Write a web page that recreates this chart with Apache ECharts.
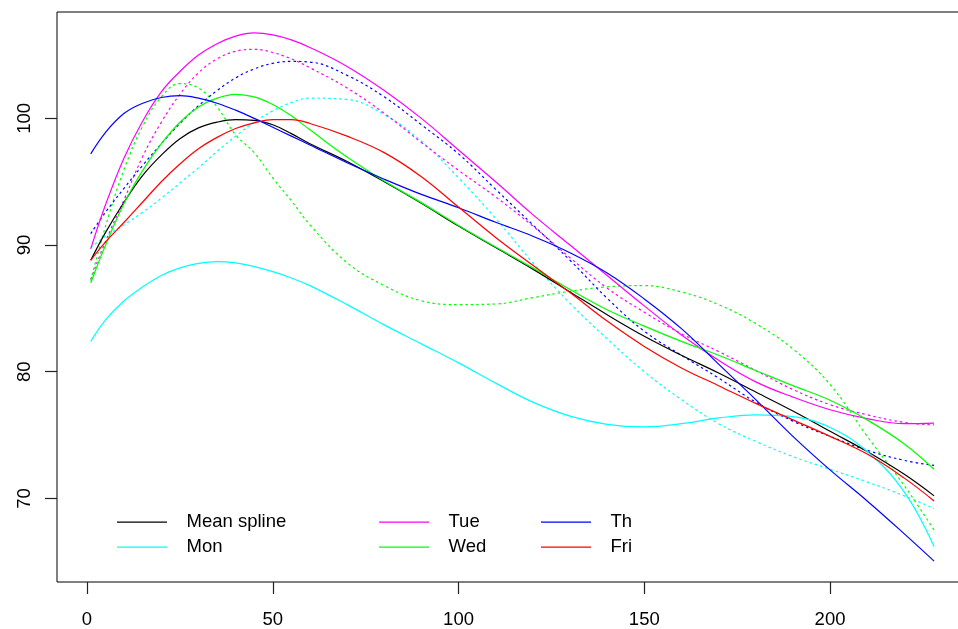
<!DOCTYPE html>
<html>
<head>
<meta charset="utf-8">
<script src="https://cdn.jsdelivr.net/npm/echarts@6/dist/echarts.min.js"></script>
<style>
html,body{margin:0;padding:0;background:#fff;overflow:hidden;}
#chart{width:958px;height:629px;}
</style>
</head>
<body>
<div id="chart"></div>
<script>
// x positions at which the curves were read
const xs = [1,5,10,15,20,25,30,35,40,45,50,55,60,70,80,90,100,110,120,130,140,150,160,170,180,190,200,210,220,228];

// solid curves
const meanSpline = [88.8,91.0,93.4,95.5,97.1,98.4,99.25,99.7,99.9,99.85,99.5,98.8,98.0,96.6,95.0,93.3,91.5,89.8,88.1,86.3,84.5,82.8,81.3,79.9,78.4,76.9,75.3,73.7,71.9,70.2];
const mon = [82.4,84.1,85.6,86.7,87.6,88.2,88.55,88.7,88.6,88.3,87.9,87.4,86.8,85.3,83.7,82.2,80.7,79.1,77.6,76.5,75.85,75.65,75.9,76.35,76.6,76.45,75.6,73.7,70.5,66.2];
const tue = [89.7,93.2,96.9,99.8,102.1,103.7,105.0,105.9,106.5,106.75,106.6,106.2,105.6,104.1,102.2,100.0,97.5,95.0,92.4,90.0,87.6,85.2,82.9,80.9,79.2,78.0,77.0,76.3,75.9,75.95];
const wed = [87.0,90.0,93.3,95.9,98.0,99.7,100.9,101.6,101.9,101.7,101.1,100.2,99.1,96.95,95.05,93.35,91.55,89.85,88.2,86.5,84.9,83.6,82.4,81.3,80.1,78.9,77.75,76.2,74.3,72.3];
const th = [97.2,98.9,100.4,101.2,101.65,101.8,101.6,101.2,100.65,100.0,99.3,98.6,97.9,96.5,95.2,94.0,92.95,91.8,90.7,89.4,87.8,85.75,83.4,80.6,77.8,74.9,72.25,69.8,67.2,65.05];
const fri = [88.8,90.25,91.8,93.4,95.0,96.4,97.6,98.5,99.2,99.65,99.9,99.9,99.6,98.6,97.3,95.4,93.0,90.6,88.4,86.25,84.0,82.0,80.3,78.9,77.5,76.2,74.9,73.5,71.6,69.8];

// dotted curves
const monDotted = [89.8,90.7,91.6,92.6,93.7,94.9,96.1,97.4,98.6,99.7,100.6,101.25,101.6,101.5,100.3,98.2,95.3,92.1,88.6,85.4,82.6,80.0,77.8,75.9,74.5,73.3,72.3,71.3,70.2,69.2];
const tueDotted = [87.3,90.3,93.6,97.0,99.7,101.9,103.6,104.7,105.3,105.45,105.2,104.7,104.0,102.4,100.4,98.1,95.9,93.8,91.5,89.0,86.6,84.7,83.0,81.6,80.1,78.6,77.4,76.6,76.0,75.8];
const wedDotted = [87.2,91.5,96.0,99.4,101.7,102.75,102.4,100.9,98.7,97.3,95.3,93.5,91.6,88.6,86.8,85.6,85.3,85.35,85.85,86.35,86.7,86.8,86.3,85.3,83.8,81.8,79.0,74.9,71.0,67.5];
const thDotted = [90.9,92.6,94.5,96.3,98.0,99.6,101.0,102.2,103.2,103.9,104.35,104.5,104.45,103.4,101.7,99.5,97.2,94.4,91.6,88.8,85.8,83.2,81.3,79.5,77.6,76.1,74.9,73.8,73.0,72.6];

const xTicks = [0,50,100,150,200];
const yTicks = [70,80,90,100];

const FONT = 'Liberation Sans, Arial, Helvetica, sans-serif';
const FS = 18.5;

function pairs(vals){ return xs.map((x,i)=>[x, vals[i]]); }
function line(name, vals, color, dotted){
  return {
    name: name, type: 'line', data: pairs(vals), smooth: 0.4,
    showSymbol: false, symbol: 'none', silent: true,
    lineStyle: {color: color, width: 1.2, type: dotted ? [2.5, 3] : 'solid'},
    itemStyle: {color: color}
  };
}

const series = [
  line('Mon dotted', monDotted, '#00FFFF', true),
  line('Tue dotted', tueDotted, '#FF00FF', true),
  line('Wed dotted', wedDotted, '#00FF00', true),
  line('Th dotted', thDotted, '#0000FF', true),
  line('Mean spline', meanSpline, '#000000', false),
  line('Mon', mon, '#00FFFF', false),
  line('Tue', tue, '#FF00FF', false),
  line('Wed', wed, '#00FF00', false),
  line('Th', th, '#0000FF', false),
  line('Fri', fri, '#FF0000', false)
];

function legend(names, left){
  return {
    data: names, left: left, top: 507.2, orient: 'vertical',
    icon: 'rect', itemWidth: 50, itemHeight: 1.3, itemGap: 5, selectedMode: false,
    textStyle: {fontFamily: FONT, fontSize: FS, color: '#000', lineHeight: 20, padding: [0,0,0,14.5]}
  };
}

const chart = echarts.init(document.getElementById('chart'), null, {renderer: 'canvas'});
chart.setOption({
  animation: false,
  backgroundColor: '#fff',
  grid: {left: 57, top: 12, right: 958 - 967.8, bottom: 47,
         outerBoundsMode: 'none', containLabel: false,
         show: true, borderColor: '#000', borderWidth: 1, backgroundColor: 'transparent'},
  legend: [legend(['Mean spline','Mon'], 112), legend(['Tue','Wed'], 374), legend(['Th','Fri'], 536)],
  xAxis: {
    type: 'value', min: -8.08, max: 237.08,
    splitLine: {show: false},
    axisLine: {show: false, onZero: false},
    axisTick: {show: true, customValues: xTicks, length: 12, lineStyle: {color: '#222', width: 1.2}},
    axisLabel: {customValues: xTicks, fontFamily: FONT, fontSize: FS, color: '#000', margin: 28}
  },
  yAxis: {
    type: 'value', min: 63.4, max: 108.4,
    splitLine: {show: false},
    axisLine: {show: false, onZero: false},
    axisTick: {show: true, customValues: yTicks, length: 12, lineStyle: {color: '#222', width: 1.2}},
    axisLabel: {customValues: yTicks, fontFamily: FONT, fontSize: FS, color: '#000', margin: 23, rotate: 90}
  },
  series: series
});
</script>
</body>
</html>
